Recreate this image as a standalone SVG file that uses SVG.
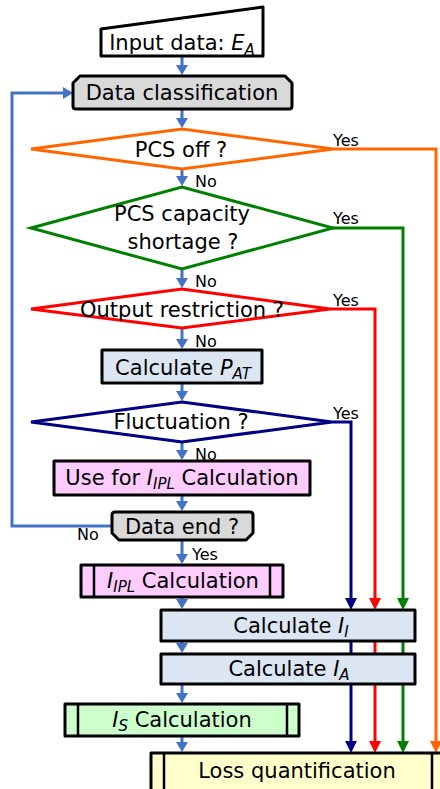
<svg xmlns="http://www.w3.org/2000/svg" width="440" height="789" viewBox="0 0 440 789">
<style>
text{font-family:"DejaVu Sans","Liberation Sans",sans-serif;fill:#000}
.t{font-size:21px;text-anchor:middle}
.s{font-size:16px}
.i{font-style:italic}
.sub{font-style:italic;font-size:15px}
.box{stroke:#000;stroke-width:3;stroke-linejoin:round}
.ln{fill:none;stroke:#000;stroke-width:2.5}
.blue{fill:none;stroke:#4472c4;stroke-width:3}
.c{fill:none;stroke-width:3}
</style>
<defs>
<marker id="ab" viewBox="0 0 10 12" refX="5" refY="6" markerWidth="10" markerHeight="12" markerUnits="userSpaceOnUse" orient="auto"><path d="M0,0L10,6L0,12Z" fill="#4472c4"/></marker>
<marker id="an" viewBox="0 0 12 12" refX="6" refY="6" markerWidth="12" markerHeight="12" markerUnits="userSpaceOnUse" orient="auto"><path d="M0,0L12,6L0,12Z" fill="#000080"/></marker>
<marker id="ar" viewBox="0 0 12 12" refX="6" refY="6" markerWidth="12" markerHeight="12" markerUnits="userSpaceOnUse" orient="auto"><path d="M0,0L12,6L0,12Z" fill="#ff0000"/></marker>
<marker id="ag" viewBox="0 0 12 12" refX="6" refY="6" markerWidth="12" markerHeight="12" markerUnits="userSpaceOnUse" orient="auto"><path d="M0,0L12,6L0,12Z" fill="#008000"/></marker>
<marker id="ao" viewBox="0 0 12 12" refX="6" refY="6" markerWidth="12" markerHeight="12" markerUnits="userSpaceOnUse" orient="auto"><path d="M0,0L12,6L0,12Z" fill="#ff6600"/></marker>
</defs>
<g id="connectors">
<path class="blue" marker-end="url(#ab)" d="M182,56V70"/>
<path class="blue" marker-end="url(#ab)" d="M182,109V123"/>
<path class="blue" marker-end="url(#ab)" d="M182,169V181"/>
<path class="blue" marker-end="url(#ab)" d="M182,269V283"/>
<path class="blue" marker-end="url(#ab)" d="M182,328V344"/>
<path class="blue" marker-end="url(#ab)" d="M182,383V396"/>
<path class="blue" marker-end="url(#ab)" d="M182,442V455"/>
<path class="blue" marker-end="url(#ab)" d="M182,495V506"/>
<path class="blue" marker-end="url(#ab)" d="M182,540V559"/>
<path class="blue" marker-end="url(#ab)" d="M182,597V604"/>
<path class="blue" marker-end="url(#ab)" d="M182,641V648"/>
<path class="blue" marker-end="url(#ab)" d="M182,684V698"/>
<path class="blue" marker-end="url(#ab)" d="M182,736V747"/>
<path class="blue" marker-end="url(#ab)" d="M112,526H12V93H68"/>
<path class="c" stroke="#ff6600" marker-end="url(#ao)" d="M333,149H436V747"/>
<path class="c" stroke="#008000" marker-end="url(#ag)" d="M333,228H403V604"/>
<path class="c" stroke="#008000" marker-end="url(#ag)" d="M403,641V747"/>
<path class="c" stroke="#ff0000" marker-end="url(#ar)" d="M330,309H375V604"/>
<path class="c" stroke="#ff0000" marker-end="url(#ar)" d="M375,641V747"/>
<path class="c" stroke="#000080" marker-end="url(#an)" d="M332,422H351V604"/>
<path class="c" stroke="#000080" marker-end="url(#an)" d="M351,641V747"/>
<text class="s" x="333" y="146">Yes</text>
<text class="s" x="333" y="224">Yes</text>
<text class="s" x="333" y="306">Yes</text>
<text class="s" x="333" y="419">Yes</text>
<text class="s" x="195" y="187">No</text>
<text class="s" x="195" y="287">No</text>
<text class="s" x="195" y="347">No</text>
<text class="s" x="195" y="460">No</text>
<text class="s" x="77" y="540">No</text>
<text class="s" x="192" y="560">Yes</text>
</g>
<g id="input">
<polygon class="box" fill="#fff" points="101,29 263,7 263,56 101,56"/>
<text class="t" x="182" y="50">Input data: <tspan class="i">E</tspan><tspan class="sub" dy="5">A</tspan></text>
</g>
<g id="classification">
<path class="box" fill="#d9d9d9" d="M73,83L80,76H285L292,83V106Q292,109 289,109H76Q73,109 73,106Z"/>
<text class="t" x="182" y="100">Data classification</text>
</g>
<g id="pcs-off">
<polygon class="c" stroke="#ff6600" fill="#fff" points="31,149 182,129 333,149 182,169"/>
<text class="t" x="181" y="157">PCS off ?</text>
</g>
<g id="capacity">
<polygon class="c" stroke="#008000" fill="#fff" points="31,228 182,187 333,228 182,269"/>
<text class="t" x="182" y="221">PCS capacity</text>
<text class="t" x="183" y="249">shortage ?</text>
</g>
<g id="restriction">
<polygon class="c" stroke="#ff0000" fill="#fff" points="31,309 182,289 330,309 182,328"/>
<text class="t" x="182" y="317">Output restriction ?</text>
</g>
<g id="calc-pat">
<rect class="box" fill="#dce6f2" x="102" y="350" width="160" height="33"/>
<text class="t" x="183" y="375">Calculate <tspan class="i">P</tspan><tspan class="sub" dy="4">AT</tspan></text>
</g>
<g id="fluctuation">
<polygon class="c" stroke="#000080" fill="#fff" points="31,422 182,402 332,422 182,442"/>
<text class="t" x="181" y="429">Fluctuation ?</text>
</g>
<g id="use-ipl">
<rect class="box" fill="#ffccff" x="54" y="461" width="256" height="34"/>
<text class="t" x="182" y="485">Use for <tspan class="i">I</tspan><tspan class="sub" dy="4">IPL</tspan><tspan dy="-4"> Calculation</tspan></text>
</g>
<g id="data-end">
<path class="box" fill="#d9d9d9" d="M115,512H250Q253,512 253,515V533L246,540H119L112,533V515Q112,512 115,512Z"/>
<text class="t" x="182" y="534">Data end ?</text>
</g>
<g id="ipl-calc">
<rect class="box" fill="#ffccff" x="81" y="565" width="202" height="32"/>
<path class="ln" d="M94,565V597M270,565V597"/>
<text class="t" x="183" y="588"><tspan class="i">I</tspan><tspan class="sub" dy="4">IPL</tspan><tspan dy="-4"> Calculation</tspan></text>
</g>
<g id="calc-ii">
<rect class="box" fill="#dce6f2" x="161" y="610" width="254" height="31"/>
<text class="t" x="291" y="633">Calculate <tspan class="i">I</tspan><tspan class="sub" dy="4">I</tspan></text>
</g>
<g id="calc-ia">
<rect class="box" fill="#dce6f2" x="161" y="654" width="254" height="30"/>
<text class="t" x="289" y="676">Calculate <tspan class="i">I</tspan><tspan class="sub" dy="4">A</tspan></text>
</g>
<g id="is-calc">
<rect class="box" fill="#ccffcc" x="65" y="704" width="234" height="32"/>
<path class="ln" d="M78,704V736M287,704V736"/>
<text class="t" x="182" y="727"><tspan class="i">I</tspan><tspan class="sub" dy="4">S</tspan><tspan dy="-4"> Calculation</tspan></text>
</g>
<g id="loss">
<rect class="box" fill="#ffffcc" x="151" y="753" width="293" height="40"/>
<path class="ln" d="M164,753V789M432,753V789"/>
<text class="t" x="297" y="778">Loss quantification</text>
</g>
</svg>
